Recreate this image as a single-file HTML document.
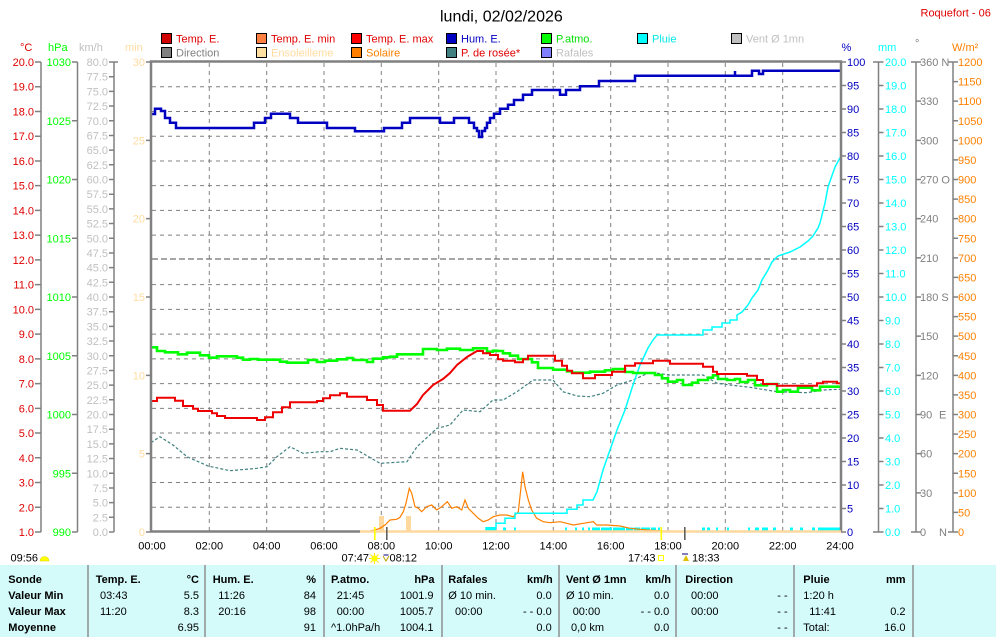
<!DOCTYPE html>
<html><head><meta charset="utf-8"><style>
html,body{margin:0;padding:0;background:#fff;}
svg{display:block;font-family:"Liberation Sans",sans-serif;}
</style></head><body>
<svg width="996" height="637" viewBox="0 0 996 637" xmlns="http://www.w3.org/2000/svg">
<rect width="996" height="637" fill="#fff"/>
<!-- title -->
<text x="440" y="21.5" font-size="16" fill="#000">lundi, 02/02/2026</text>
<text x="920.5" y="16.5" font-size="11" fill="#e00000">Roquefort - 06</text>

<!-- legend -->
<g font-size="11" stroke="#000" stroke-width="1">
<rect x="161.5" y="33.5" width="10" height="10" fill="#d00000"/>
<rect x="256.5" y="33.5" width="10" height="10" fill="#ff8040"/>
<rect x="351.5" y="33.5" width="10" height="10" fill="#ff0000"/>
<rect x="446.5" y="33.5" width="10" height="10" fill="#0000c0"/>
<rect x="541.5" y="33.5" width="10" height="10" fill="#00ff00"/>
<rect x="637.5" y="33.5" width="10" height="10" fill="#00ffff"/>
<rect x="731.5" y="33.5" width="10" height="10" fill="#c0c0c0"/>
<rect x="161.5" y="47.5" width="10" height="10" fill="#808080"/>
<rect x="256.5" y="47.5" width="10" height="10" fill="#ffe0a0"/>
<rect x="351.5" y="47.5" width="10" height="10" fill="#ff8000"/>
<rect x="446.5" y="47.5" width="10" height="10" fill="#408080"/>
<rect x="541.5" y="47.5" width="10" height="10" fill="#8080ff"/>
</g>
<g font-size="11">
<text x="176" y="42.5" fill="#e00000">Temp. E.</text>
<text x="271" y="42.5" fill="#e00000">Temp. E. min</text>
<text x="366" y="42.5" fill="#e00000">Temp. E. max</text>
<text x="461" y="42.5" fill="#0000c0">Hum. E.</text>
<text x="556" y="42.5" fill="#00e000">P.atmo.</text>
<text x="652" y="42.5" fill="#00e8e8">Pluie</text>
<text x="746" y="42.5" fill="#c0c0c0">Vent Ø 1mn</text>
<text x="176" y="56.5" fill="#808080">Direction</text>
<text x="271" y="56.5" fill="#ffdca0">Ensoleilleme</text>
<text x="366" y="56.5" fill="#ff8000">Solaire</text>
<text x="461" y="56.5" fill="#e00000">P. de rosée*</text>
<text x="556" y="56.5" fill="#c0c0c0">Rafales</text>
</g>

<!-- unit headers -->
<g font-size="11">
<text x="20" y="51" fill="#e00000">°C</text>
<text x="48" y="51" fill="#00ff00">hPa</text>
<text x="79" y="51" fill="#c0c0c0">km/h</text>
<text x="125" y="51" fill="#ffdca0">min</text>
<text x="841.5" y="51" fill="#0000c0">%</text>
<text x="878" y="51" fill="#00ffff">mm</text>
<text x="915" y="47" fill="#808080">°</text>
<text x="952" y="51" fill="#ff8000">W/m²</text>
</g>

<!-- gridlines -->
<g stroke="#808080" stroke-width="1" stroke-dasharray="4,4" fill="none">
<path d="M209.3,63V531M266.7,63V531M324,63V531M381.3,63V531M438.7,63V531M496,63V531M553.3,63V531M610.7,63V531M668,63V531M725.3,63V531M782.7,63V531"/>
<path d="M152,86.74H840M152,111.47H840M152,136.21H840M152,160.95H840M152,185.68H840M152,210.42H840M152,235.16H840M152,284.63H840M152,309.37H840M152,334.11H840M152,358.84H840M152,383.58H840M152,408.32H840M152,433.05H840M152,457.79H840M152,482.53H840M152,507.26H840"/>
</g>
<path d="M152,259H840" stroke="#707070" stroke-width="1.3" stroke-dasharray="6,3" fill="none"/>

<!-- left axes -->
<g stroke="#808080" stroke-width="1.5" fill="none">
<path d="M41,62V532M77.5,62V532M114,62V532"/>
<path d="M35,62H41M35,86.74H41M35,111.47H41M35,136.21H41M35,160.95H41M35,185.68H41M35,210.42H41M35,235.16H41M35,259.89H41M35,284.63H41M35,309.37H41M35,334.11H41M35,358.84H41M35,383.58H41M35,408.32H41M35,433.05H41M35,457.79H41M35,482.53H41M35,507.26H41M35,532H41"/>
<path d="M72,62H77.5M72,120.75H77.5M72,179.5H77.5M72,238.25H77.5M72,297H77.5M72,355.75H77.5M72,414.5H77.5M72,473.25H77.5M72,532H77.5"/>
<path d="M109,62H118M109,76.69H114M109,91.38H114M109,106.06H114M109,120.75H114M109,135.44H114M109,150.13H114M109,164.81H114M109,179.5H114M109,194.19H114M109,208.88H114M109,223.56H114M109,238.25H114M109,252.94H114M109,267.63H114M109,282.31H114M109,297H114M109,311.69H114M109,326.38H114M109,341.06H114M109,355.75H114M109,370.44H114M109,385.13H114M109,399.81H114M109,414.5H114M109,429.19H114M109,443.88H114M109,458.56H114M109,473.25H114M109,487.94H114M109,502.63H114M109,517.31H114M109,532H114"/>
<path d="M146,62H151M146,140.33H151M146,218.67H151M146,297H151M146,375.33H151M146,453.67H151M146,532H151"/>
</g>
<g font-size="11" text-anchor="end" fill="#e00000">
<text x="34" y="66">20.0</text><text x="34" y="90.7">19.0</text><text x="34" y="115.5">18.0</text><text x="34" y="140.2">17.0</text><text x="34" y="165">16.0</text><text x="34" y="189.7">15.0</text><text x="34" y="214.4">14.0</text><text x="34" y="239.2">13.0</text><text x="34" y="263.9">12.0</text><text x="34" y="288.6">11.0</text><text x="34" y="313.4">10.0</text><text x="34" y="338.1">9.0</text><text x="34" y="362.8">8.0</text><text x="34" y="387.6">7.0</text><text x="34" y="412.3">6.0</text><text x="34" y="437">5.0</text><text x="34" y="461.8">4.0</text><text x="34" y="486.5">3.0</text><text x="34" y="511.3">2.0</text><text x="34" y="536">1.0</text>
</g>
<g font-size="11" text-anchor="end" fill="#00ff00">
<text x="71" y="66">1030</text><text x="71" y="124.8">1025</text><text x="71" y="183.5">1020</text><text x="71" y="242.3">1015</text><text x="71" y="301">1010</text><text x="71" y="359.8">1005</text><text x="71" y="418.5">1000</text><text x="71" y="477.3">995</text><text x="71" y="536">990</text>
</g>
<g font-size="11" text-anchor="end" fill="#c0c0c0">
<text x="108" y="66">80.0</text><text x="108" y="80.7">77.5</text><text x="108" y="95.4">75.0</text><text x="108" y="110.1">72.5</text><text x="108" y="124.8">70.0</text><text x="108" y="139.4">67.5</text><text x="108" y="154.1">65.0</text><text x="108" y="168.8">62.5</text><text x="108" y="183.5">60.0</text><text x="108" y="198.2">57.5</text><text x="108" y="212.9">55.0</text><text x="108" y="227.6">52.5</text><text x="108" y="242.3">50.0</text><text x="108" y="256.9">47.5</text><text x="108" y="271.6">45.0</text><text x="108" y="286.3">42.5</text><text x="108" y="301">40.0</text><text x="108" y="315.7">37.5</text><text x="108" y="330.4">35.0</text><text x="108" y="345.1">32.5</text><text x="108" y="359.8">30.0</text><text x="108" y="374.4">27.5</text><text x="108" y="389.1">25.0</text><text x="108" y="403.8">22.5</text><text x="108" y="418.5">20.0</text><text x="108" y="433.2">17.5</text><text x="108" y="447.9">15.0</text><text x="108" y="462.6">12.5</text><text x="108" y="477.3">10.0</text><text x="108" y="491.9">7.5</text><text x="108" y="506.6">5.0</text><text x="108" y="521.3">2.5</text><text x="108" y="536">0.0</text>
</g>
<g font-size="11" text-anchor="end" fill="#ffdca0">
<text x="145" y="66">30</text><text x="145" y="144.3">25</text><text x="145" y="222.7">20</text><text x="145" y="301">15</text><text x="145" y="379.3">10</text><text x="145" y="457.7">5</text><text x="145" y="536">0</text>
</g>

<!-- right axes -->
<g stroke="#808080" stroke-width="1.5" fill="none">
<path d="M878.5,62V532M916,62V532M953,62V532"/>
<path d="M841,62H846M841,85.5H846M841,109H846M841,132.5H846M841,156H846M841,179.5H846M841,203H846M841,226.5H846M841,250H846M841,273.5H846M841,297H846M841,320.5H846M841,344H846M841,367.5H846M841,391H846M841,414.5H846M841,438H846M841,461.5H846M841,485H846M841,508.5H846M841,532H846"/>
<path d="M873,62H883.5M878.5,85.5H883.5M878.5,109H883.5M878.5,132.5H883.5M878.5,156H883.5M878.5,179.5H883.5M878.5,203H883.5M878.5,226.5H883.5M878.5,250H883.5M878.5,273.5H883.5M878.5,297H883.5M878.5,320.5H883.5M878.5,344H883.5M878.5,367.5H883.5M878.5,391H883.5M878.5,414.5H883.5M878.5,438H883.5M878.5,461.5H883.5M878.5,485H883.5M878.5,508.5H883.5M873,532H883.5"/>
<path d="M911,62H921M916,101.17H921M916,140.33H921M916,179.5H921M916,218.67H921M916,257.83H921M916,297H921M916,336.17H921M916,375.33H921M916,414.5H921M916,453.67H921M916,492.83H921M911,532H921"/>
<path d="M948,62H958M953,81.58H958M953,101.17H958M953,120.75H958M953,140.33H958M953,159.92H958M953,179.5H958M953,199.08H958M953,218.67H958M953,238.25H958M953,257.83H958M953,277.42H958M953,297H958M953,316.58H958M953,336.17H958M953,355.75H958M953,375.33H958M953,394.92H958M953,414.5H958M953,434.08H958M953,453.67H958M953,473.25H958M953,492.83H958M953,512.42H958M948,532H958"/>
</g>
<g font-size="11" fill="#0000c0">
<text x="847" y="66">100</text><text x="847" y="89.5">95</text><text x="847" y="113">90</text><text x="847" y="136.5">85</text><text x="847" y="160">80</text><text x="847" y="183.5">75</text><text x="847" y="207">70</text><text x="847" y="230.5">65</text><text x="847" y="254">60</text><text x="847" y="277.5">55</text><text x="847" y="301">50</text><text x="847" y="324.5">45</text><text x="847" y="348">40</text><text x="847" y="371.5">35</text><text x="847" y="395">30</text><text x="847" y="418.5">25</text><text x="847" y="442">20</text><text x="847" y="465.5">15</text><text x="847" y="489">10</text><text x="847" y="512.5">5</text><text x="847" y="536">0</text>
</g>
<g font-size="11" fill="#00ffff">
<text x="885" y="66">20.0</text><text x="885" y="89.5">19.0</text><text x="885" y="113">18.0</text><text x="885" y="136.5">17.0</text><text x="885" y="160">16.0</text><text x="885" y="183.5">15.0</text><text x="885" y="207">14.0</text><text x="885" y="230.5">13.0</text><text x="885" y="254">12.0</text><text x="885" y="277.5">11.0</text><text x="885" y="301">10.0</text><text x="885" y="324.5">9.0</text><text x="885" y="348">8.0</text><text x="885" y="371.5">7.0</text><text x="885" y="395">6.0</text><text x="885" y="418.5">5.0</text><text x="885" y="442">4.0</text><text x="885" y="465.5">3.0</text><text x="885" y="489">2.0</text><text x="885" y="512.5">1.0</text><text x="885" y="536">0.0</text>
</g>
<g font-size="11" fill="#808080">
<text x="920" y="66">360 N</text><text x="920" y="105.2">330</text><text x="920" y="144.3">300</text><text x="920" y="183.5">270 O</text><text x="920" y="222.7">240</text><text x="920" y="261.8">210</text><text x="920" y="301">180 S</text><text x="920" y="340.2">150</text><text x="920" y="379.3">120</text><text x="920" y="418.5">90</text><text x="939" y="418.5">E</text><text x="920" y="457.7">60</text><text x="920" y="496.8">30</text><text x="920" y="536">0</text><text x="939" y="536">N</text>
</g>
<g font-size="11" fill="#ff8000">
<text x="958" y="66">1200</text><text x="958" y="85.6">1150</text><text x="958" y="105.2">1100</text><text x="958" y="124.8">1050</text><text x="958" y="144.3">1000</text><text x="958" y="163.9">950</text><text x="958" y="183.5">900</text><text x="958" y="203.1">850</text><text x="958" y="222.7">800</text><text x="958" y="242.3">750</text><text x="958" y="261.8">700</text><text x="958" y="281.4">650</text><text x="958" y="301">600</text><text x="958" y="320.6">550</text><text x="958" y="340.2">500</text><text x="958" y="359.8">450</text><text x="958" y="379.3">400</text><text x="958" y="398.9">350</text><text x="958" y="418.5">300</text><text x="958" y="438.1">250</text><text x="958" y="457.7">200</text><text x="958" y="477.3">150</text><text x="958" y="496.8">100</text><text x="958" y="516.4">50</text><text x="958" y="536">0</text>
</g>

<!-- ensoleillement bars -->
<rect x="379" y="516" width="5" height="15.5" fill="#ffd8a0"/>
<rect x="406" y="516" width="5" height="15.5" fill="#ffd8a0"/>

<!-- rain rate bars -->
<g fill="#00ffff">
<rect x="486" y="527.5" width="10" height="4"/><rect x="503" y="527.5" width="3" height="4"/><rect x="514" y="527.5" width="2" height="4"/><rect x="565" y="527.5" width="2" height="4"/><rect x="575" y="527.5" width="2" height="4"/><rect x="582" y="527.5" width="2" height="4"/><rect x="588" y="527.5" width="2" height="4"/><rect x="592" y="527.5" width="8" height="4"/><rect x="601" y="527.5" width="11" height="4"/><rect x="613" y="527.5" width="12" height="4"/><rect x="626" y="527.5" width="7" height="4"/><rect x="634" y="527.5" width="6" height="4"/><rect x="641" y="527.5" width="9" height="4"/><rect x="651" y="527.5" width="5" height="4"/><rect x="658" y="527.5" width="2" height="4"/><rect x="702" y="527.5" width="3" height="4"/><rect x="707" y="527.5" width="3" height="4"/><rect x="716" y="527.5" width="2" height="4"/><rect x="727" y="527.5" width="2" height="4"/><rect x="748" y="527.5" width="2" height="4"/><rect x="755" y="527.5" width="4" height="4"/><rect x="762" y="527.5" width="6" height="4"/><rect x="773" y="527.5" width="3" height="4"/><rect x="790" y="527.5" width="3" height="4"/><rect x="800" y="527.5" width="3" height="4"/><rect x="812" y="527.5" width="3" height="4"/><rect x="818" y="527.5" width="22" height="4"/>
</g>

<!-- dew point -->
<polyline fill="none" stroke="#408080" stroke-width="1.2" stroke-dasharray="3,2" points="151,442.7 160,436.7 173,445 187,456.7 208,466 230,470.7 257,468.3 267,466.7 277,456.7 290,446.7 303,453.3 320,451.7 330,451.7 340,448.3 357,450 380,463.3 407,461.7 417,446.7 437,428.3 450,425 463,410 480,411.7 493,400 503,400 517,391.7 533,380 553,380 563,391.7 577,396 590,396.7 603,393.3 617,385 633,380 650,372.3 670,375 703,375 717,383.3 730,385 750,387.3 777,391.7 807,392.7 823,390 840,389.3"/>

<!-- solar -->
<polyline fill="none" stroke="#ff8000" stroke-width="1.2" points="370,531 375,530 380,528.3 385,525 390,520 396.7,519.3 400,517.3 403.3,511.7 406,503.3 409.3,488.3 411.7,493.3 415,506.7 418.3,508.3 421.7,511.7 426.7,506.7 431.7,505 436.7,510 441.7,506.7 447.3,501.7 451.7,508.3 456.7,506.7 461.7,510 465,500 468.3,508.3 473.3,513.3 478.3,518.3 483.3,521.7 488.3,520 493.3,516.7 500,515 506.7,515 513.3,516.7 518.3,511.7 520.7,490 522.7,471.7 525,486.7 528.3,500 531.7,510 536.7,518.3 543.3,521.7 550,522.7 560,521.7 566.7,523.3 573.3,525 583.3,523.3 593.3,521.7 596.7,525 606.7,525 620,526 630,528.3 646.7,530 663.3,531"/>

<!-- rain cumulative -->
<path fill="none" stroke="#00ffff" stroke-width="1.5" d="M486,531V527.7H496V523.3H505V518.3H515V513.3H567V509.3H577V505H583V500H593L597,491.7L603,470L610,450L617,430L625,410L633,385L640,365L648,348L653,340L657,335H703V330H712V327H722V323H730V320H737V315L742,312L748,305L752,298L758,290L762,280L768,270L772,262L778,256L790,252L800,247L808,241L813,236L818,228L820,223L825,203L828,187L835,167L841,156"/>

<!-- pressure -->
<path fill="none" stroke="#00ff00" stroke-width="2.6" d="M151,347.3H157V351H165V352.3H178V354.3H187V352.7H200V355.3H209V357.7H217V356.3H237V357.7H243V359.7H250V359H258V359.7H280V361.7H287V362.7H308V360H317V362H325V360.7H337V359.3H347V358H353V360H367V362H373V358.7H383V357.3H390V356.7H397V354.3H423V349H437V350H447V348.7H460V350H473V348.3H487V351.7H493V350.7H497V351H503V353.3H510V355.7H518V359H532V362.3H538V368H553V369.7H567V371.3H572V372.7H590V371.7H605V370.3H613V369H625V372H633V373H655V375H662V378.3H668V381.7H677V380H683V385H692V382.7H698V380H708V377.7H713V375.3H718V379H727V380H735V379H740V382H748V380H755V385.3H767V384H777V391.7H783V390H790V391.7H798V387.7H812V390.3H820V386.7H840"/>

<!-- temperature -->
<path fill="none" stroke="#ee0000" stroke-width="2" d="M151,401H157V397.7H175V400.7H183V406H193V408.7H198V411H212V413.3H217V416H225V418H257V420H265V417.3H273V412.3H282V407.3H290V402.3H317V401H323V398.3H330V395.3H340V393.3H347V396.7H367V400H377V405H383V410.7H410L417,404L423,395L433,385L443,379L450,373L457,365L467,357L477,351H483V353.3H490V355H498V359.3H503V360.7H515V362.3H523V359.3H528V355.7H555V360.7H562V365.7H567V370.7H572V373.3H583V378.3H595V375H612V371.7H625V365.7H635V363.3H653V360.7H670V363.7H703V366.7H713V371.7H717V374H747V375.7H757V380H763V384H777V385.7H817V383.3H823V381.7H837V383.3H840"/>

<!-- humidity -->
<path fill="none" stroke="#0000c0" stroke-width="2.5" d="M151,114H155V108.7H161V111H165V118H170V122.7H176V128H254V122.7H265V118H271V113.7H290V118H298V122.7H327V128H355V131.3H384V128H402V122.7H410V118H440V122.7H454V118H469V122.7H474V128H477V131H479V137H482V131H485V128H487V122.7H490V118H494V113.7H500V108.7H508V104.7H514V100H523V94.7H532V90H560V94.7H566V90H580V86.3H599V81H635V75.7H735V71V75.7H752V70.7H759V74H763V70.7H841"/>

<!-- plot border -->
<path d="M151,532V61.5H841V532" fill="none" stroke="#808080" stroke-width="2.5"/>
<path d="M151,531.5H360" stroke="#808080" stroke-width="2.5"/>
<path d="M360,531.5H841" stroke="#ffd8a0" stroke-width="2.5"/>

<!-- sunrise/sunset markers -->
<rect x="374" y="527" width="1.6" height="13" fill="#ffff00"/>
<rect x="386" y="527" width="1.6" height="13" fill="#606060"/>
<rect x="660.5" y="527" width="1.6" height="13" fill="#ffff00"/>
<rect x="684" y="527" width="1.6" height="13" fill="#606060"/>

<!-- time labels -->
<g font-size="11" text-anchor="middle" fill="#000">
<text x="152" y="549.5">00:00</text><text x="209.3" y="549.5">02:00</text><text x="266.7" y="549.5">04:00</text><text x="324" y="549.5">06:00</text><text x="381.3" y="549.5">08:00</text><text x="438.7" y="549.5">10:00</text><text x="496" y="549.5">12:00</text><text x="553.3" y="549.5">14:00</text><text x="610.7" y="549.5">16:00</text><text x="668" y="549.5">18:00</text><text x="725.3" y="549.5">20:00</text><text x="782.7" y="549.5">22:00</text><text x="840" y="549.5">24:00</text>
</g>

<!-- sun info -->
<g font-size="11" fill="#000">
<text x="10.5" y="561.5">09:56</text>
<text x="341.5" y="561.5">07:47</text>
<text x="389.5" y="561.5">08:12</text>
<text x="628" y="561.5">17:43</text>
<text x="692" y="561.5">18:33</text>
</g>
<path d="M40,561A4.5,4.5 0 0 1 49,561Z" fill="#ffff00" stroke="#e0d000" stroke-width="0.6"/>
<g stroke="#ffe000" stroke-width="1">
<path d="M374.5,553V564M369,558.5H380M370.5,554.5L378.5,562.5M378.5,554.5L370.5,562.5"/>
</g>
<circle cx="374.5" cy="558.5" r="3" fill="#ffff00"/>
<path d="M383,556L386,561L389,556" fill="none" stroke="#c0a000" stroke-width="1"/>
<rect x="383.5" y="554" width="5" height="2" fill="#8080c0"/>
<rect x="658.5" y="555.5" width="5" height="5" fill="none" stroke="#ffff00" stroke-width="1"/>
<path d="M683,561L686,555L689,561Z" fill="#e0c000"/>
<rect x="682" y="553" width="6" height="2" fill="#8080c0"/>

<!-- table -->
<rect x="0" y="565" width="996" height="72" fill="#d4fafa"/>
<g stroke="#909090" stroke-width="1.5">
<path d="M88,565V637M205,565V637M324,565V637M442,565V637M559,565V637M676,565V637M794,565V637M913,565V637"/>
</g>
<g font-size="11" font-weight="bold" fill="#000">
<text x="8.3" y="583">Sonde</text>
<text x="8.3" y="599">Valeur Min</text>
<text x="8.3" y="615">Valeur Max</text>
<text x="8.3" y="631">Moyenne</text>
<text x="95.7" y="583">Temp. E.</text>
<text x="199" y="583" text-anchor="end">°C</text>
<text x="212.7" y="583">Hum. E.</text>
<text x="316" y="583" text-anchor="end">%</text>
<text x="331" y="583">P.atmo.</text>
<text x="434.5" y="583" text-anchor="end">hPa</text>
<text x="448.3" y="583">Rafales</text>
<text x="552.7" y="583" text-anchor="end">km/h</text>
<text x="566" y="583">Vent Ø 1mn</text>
<text x="671" y="583" text-anchor="end">km/h</text>
<text x="685.3" y="583">Direction</text>
<text x="803.3" y="583">Pluie</text>
<text x="905.5" y="583" text-anchor="end">mm</text>
</g>
<g font-size="11" fill="#000">
<text x="100" y="599">03:43</text><text x="199" y="599" text-anchor="end">5.5</text>
<text x="100" y="615">11:20</text><text x="199" y="615" text-anchor="end">8.3</text>
<text x="199" y="631" text-anchor="end">6.95</text>
<text x="218.3" y="599">11:26</text><text x="316" y="599" text-anchor="end">84</text>
<text x="218.3" y="615">20:16</text><text x="316" y="615" text-anchor="end">98</text>
<text x="316" y="631" text-anchor="end">91</text>
<text x="336.7" y="599">21:45</text><text x="433.5" y="599" text-anchor="end">1001.9</text>
<text x="336.7" y="615">00:00</text><text x="433.5" y="615" text-anchor="end">1005.7</text>
<text x="331" y="631">^1.0hPa/h</text><text x="433.5" y="631" text-anchor="end">1004.1</text>
<text x="448.3" y="599">Ø 10 min.</text><text x="551.7" y="599" text-anchor="end">0.0</text>
<text x="455" y="615">00:00</text><text x="551.7" y="615" text-anchor="end">- - 0.0</text>
<text x="551.7" y="631" text-anchor="end">0.0</text>
<text x="566" y="599">Ø 10 min.</text><text x="669.3" y="599" text-anchor="end">0.0</text>
<text x="572.7" y="615">00:00</text><text x="669.3" y="615" text-anchor="end">- - 0.0</text>
<text x="571" y="631">0,0 km</text><text x="669.3" y="631" text-anchor="end">0.0</text>
<text x="691" y="599">00:00</text><text x="787.7" y="599" text-anchor="end">- -</text>
<text x="691" y="615">00:00</text><text x="787.7" y="615" text-anchor="end">- -</text>
<text x="787.7" y="631" text-anchor="end">- -</text>
<text x="803.3" y="599">1:20 h</text>
<text x="809.3" y="615">11:41</text><text x="905.5" y="615" text-anchor="end">0.2</text>
<text x="803.3" y="631">Total:</text><text x="905.5" y="631" text-anchor="end">16.0</text>
</g>
</svg>
</body></html>
